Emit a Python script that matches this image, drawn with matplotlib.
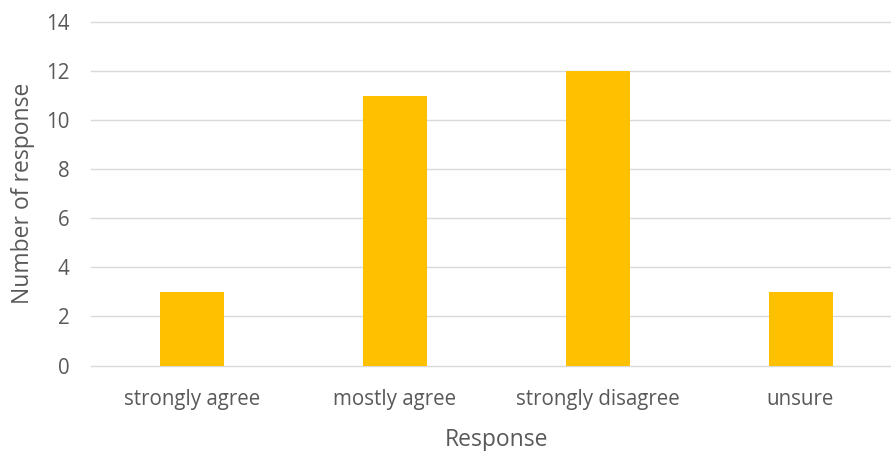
import matplotlib
matplotlib.use("Agg")
import matplotlib.pyplot as plt

categories = ["strongly agree", "mostly agree", "strongly disagree", "unsure"]
values = [3, 11, 12, 3]
yticks = [0, 2, 4, 6, 8, 10, 12, 14]

plt.rcParams['font.family'] = ['Open Sans', 'DejaVu Sans']
W, H = 891, 451
fig = plt.figure(figsize=(W/100, H/100), dpi=100)
ax = fig.add_axes([90.5/W, (H-365.5)/H, (902-90.5)/W, (365.5-22)/H])

x = range(len(categories))
ax.bar(x, values, width=64/203, color="#FFC000", zorder=3)
ax.set_xlim(-0.5, len(categories)-0.5)
ax.set_ylim(0, 14)
ax.set_yticks(yticks)
ax.set_xticks(list(x))
ax.set_xticklabels(categories)
ax.yaxis.grid(True, color="#D9D9D9", linewidth=1.0, zorder=0)
for gl in ax.get_ygridlines():
    gl.set_clip_on(False)
for s in ax.spines.values():
    s.set_visible(False)
ax.tick_params(axis='both', length=0, labelsize=14.8, colors="#595959")
ax.tick_params(axis='y', pad=15)
ax.tick_params(axis='x', pad=17)
ax.set_xlabel("Response", fontsize=16.5, color="#595959", labelpad=13)
ax.set_ylabel("Number of response", fontsize=16.5, color="#595959", labelpad=8)
fig.savefig("out.png", dpi=100)
